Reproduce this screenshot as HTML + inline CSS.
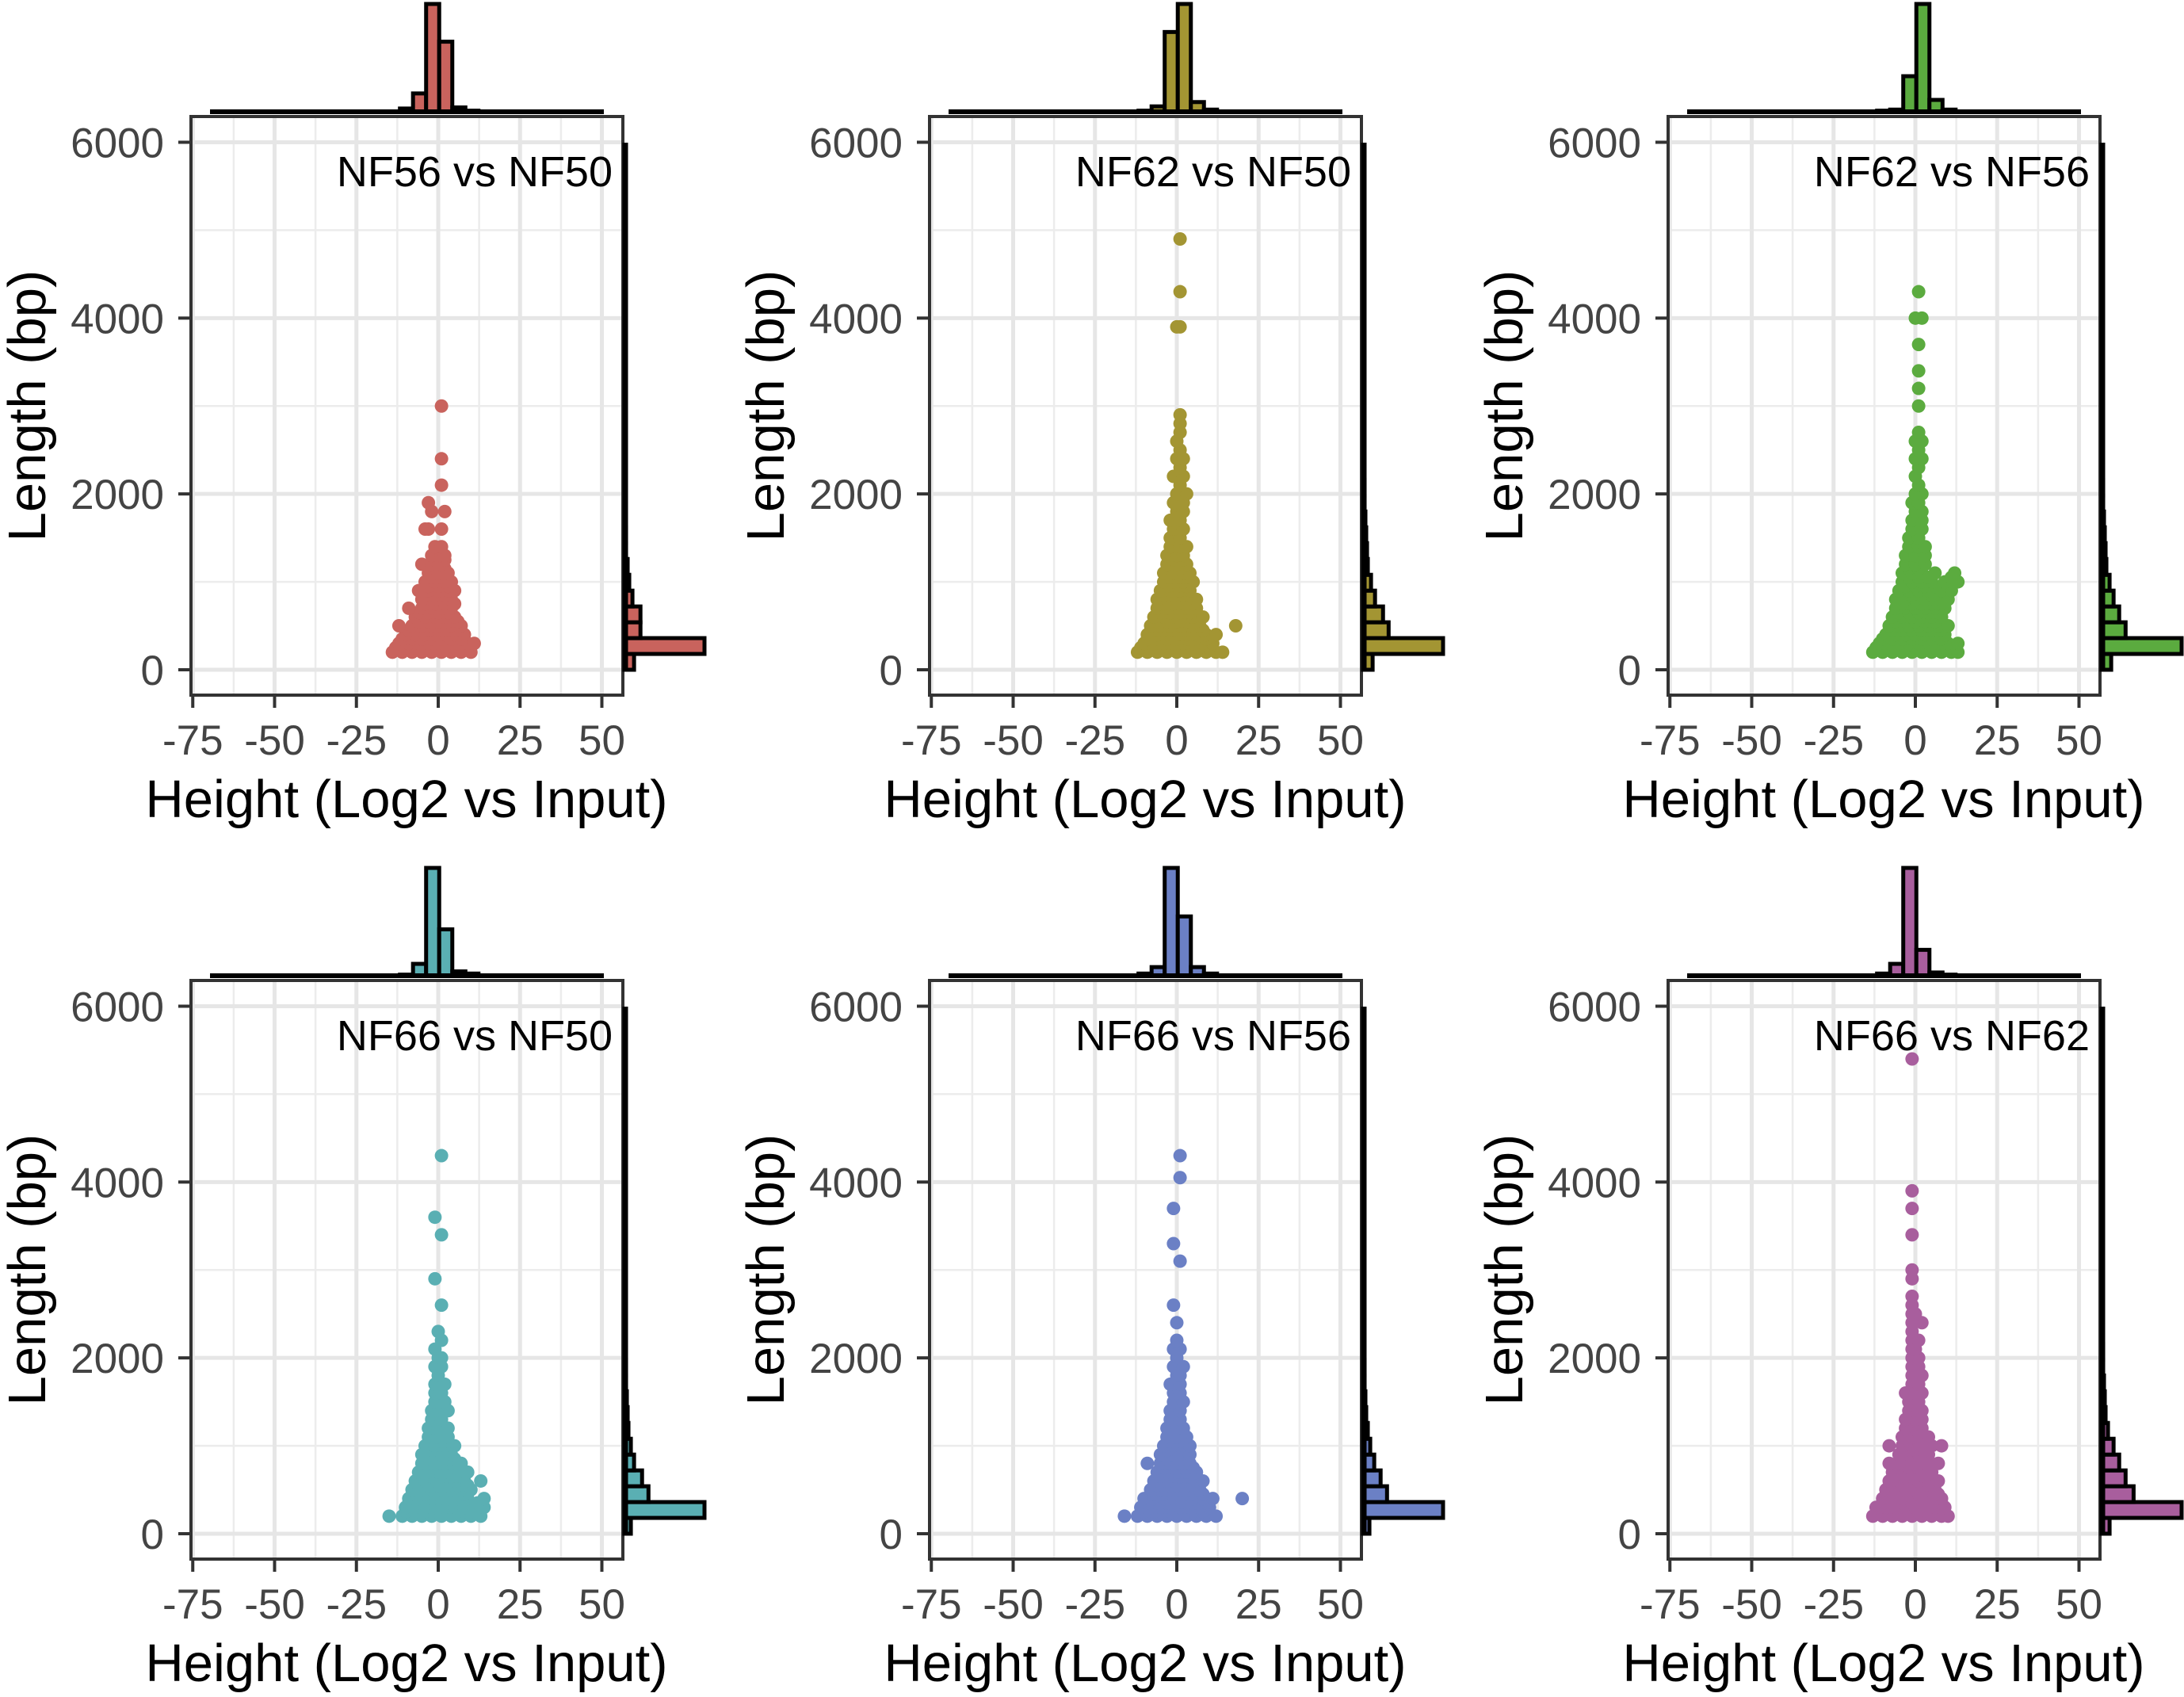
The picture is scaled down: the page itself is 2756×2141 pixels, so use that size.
<!DOCTYPE html>
<html><head><meta charset="utf-8"><style>
html,body{margin:0;padding:0;background:#fff}
svg{display:block}
text{font-family:"Liberation Sans",Arial,sans-serif}
</style></head><body>
<svg id="chart" width="2756" height="2141" viewBox="0 0 2756 2141"></svg>
<script>
const panelTitles = ["NF56 vs NF50","NF62 vs NF50","NF62 vs NF56","NF66 vs NF50","NF66 vs NF56","NF66 vs NF62"];
const panelColors = ["#c9635d","#a39533","#5bab3f","#5aafb3","#6b80c5","#a85e9d"];
const xTicks = [-75,-50,-25,0,25,50];
const xMinor = [-62.5,-37.5,-12.5,12.5,37.5];
const yTicks = [0,2000,4000,6000];
const yMinor = [1000,3000,5000];
const topEdges = [-19.7,-15.7,-11.7,-7.7,-3.7,0.3,4.3,8.3,12.3,16.3,20.3];
const topHist1 = [0,0,0.03,0.17,1.0,0.65,0.04,0.01,0,0];
const topHist2 = [0,0,0.01,0.05,0.74,1.0,0.09,0.02,0,0];
const topHist3 = [0,0,0.01,0.02,0.33,1.0,0.11,0.02,0,0];
const topHist4 = [0,0,0.01,0.11,1.0,0.43,0.04,0.02,0,0];
const topHist5 = [0,0,0.02,0.08,1.0,0.55,0.08,0.02,0,0];
const topHist6 = [0,0,0.02,0.11,1.0,0.24,0.03,0.01,0,0];
const rightEdges = [0,180,360,540,720,900,1080,1260,1440,1620,1800,1980,2160,2340];
const rightHist1 = [0.12,1.0,0.2,0.2,0.1,0.06,0.04,0.02,0.02,0.01,0.01,0,0];
const rightHist2 = [0.12,1.0,0.32,0.25,0.15,0.1,0.06,0.05,0.04,0.03,0.02,0.02,0.01];
const rightHist3 = [0.12,1.0,0.3,0.22,0.15,0.1,0.06,0.05,0.04,0.03,0.02,0.02,0.01];
const rightHist4 = [0.08,1.0,0.3,0.22,0.12,0.08,0.05,0.04,0.03,0.02,0.02,0.01,0.01];
const rightHist5 = [0.08,1.0,0.3,0.22,0.14,0.09,0.06,0.04,0.03,0.02,0.02,0.01,0.01];
const rightHist6 = [0.1,1.0,0.4,0.3,0.22,0.15,0.08,0.05,0.04,0.03,0.02,0.02,0.01];
const points1 = "200:-14 -11 -8 -5 -2 1 4 7 10|250:-13 -10 -7 -4 -1 2 5 8|300:-12 -9 -6 -3 0 3 6 9 11|350:-11 -8 -5 -2 1 4 7|400:-10 -7 -4 -1 2 5 8|450:-9 -6 -3 0 3 6|500:-12 -8 -5 -2 1 4 7|550:-6 -3 0 3 6|600:-7 -4 -1 2 5|650:-6 -3 0 3|700:-9 -5 -2 1 4|750:-4 -1 2 5|800:-5 -2 1 4|850:-4 -1 2|900:-6 -3 0 3 5|950:-3 0 3|1000:-4 -1 2 4|1050:-2 1|1100:-3 0 3|1150:-1 2|1200:-5 -2 1|1250:-1 2|1300:-2 1 2|1400:-1 1|1600:-4 -3 1|1800:-2 2|1900:-3|2100:1|2400:1|3000:1";
const points2 = "200:-12 -9 -6 -3 0 3 6 9 12 14|250:-11 -8 -5 -2 1 4 7 10|300:-10 -7 -4 -1 2 5 8 11|350:-9 -6 -3 0 3 6 9|400:-9 -6 -3 0 3 6 9 12|450:-7 -4 -1 2 5 8|500:-8 -5 -2 1 4 7 18|550:-6 -3 0 3 6|600:-7 -4 -1 2 5 8|650:-5 -2 1 4|700:-6 -3 0 3 6|750:-4 -1 2 5|800:-6 -3 0 3 6|850:-4 -1 2 4|900:-5 -2 1 4|950:-3 0 3|1000:-4 -1 2 5|1050:-2 1 3|1100:-4 -1 2 4|1150:-2 1|1200:-3 0 3|1250:-1 2|1300:-3 0 2|1400:-2 1 3|1500:-2 1|1600:-1 2|1700:-2 1|1800:0 2|1900:-1 2|2000:0 3|2100:1|2200:-1 2|2300:1|2400:0 2|2500:1|2600:0|2700:1|2800:1|2900:1|3900:0 1|4300:1|4900:1";
const points3 = "200:-13 -10 -7 -4 -1 2 5 8 11 13|250:-12 -9 -6 -3 0 3 6 9 12|300:-11 -8 -5 -2 1 4 7 10 13|350:-10 -7 -4 -1 2 5 8|400:-9 -6 -3 0 3 6 9|450:-7 -4 -1 2 5 8|500:-8 -5 -2 1 4 7 10|550:-6 -3 0 3 6|600:-7 -4 -1 2 5 8|650:-5 -2 1 4 7|700:-6 -3 0 3 6 9|750:-4 -1 2 5 8|800:-6 -3 0 3 6 10|850:-4 -1 2 5|900:-5 -2 1 4 8 11|950:-3 0 3 6|1000:-4 -1 2 5 9 13|1050:-2 1 4 11|1100:-4 -1 2 6 12|1150:-2 1|1200:-3 0 3|1300:-3 0 3|1400:-2 1 3|1500:-2 1|1600:-1 2|1700:-1 2|1800:0 2|1900:-1 1|2000:0 2|2100:1|2200:0|2300:1|2400:0 2|2500:1|2600:0 2|2700:1|3000:1|3200:1|3400:1|3700:1|4000:0 2|4300:1";
const points4 = "200:-15 -11 -8 -5 -2 1 4 7 10 13|250:-10 -7 -4 -1 2 5 8 11|300:-10 -7 -4 -1 2 5 8 11 14|350:-9 -6 -3 0 3 6 9 12|400:-9 -6 -3 0 3 6 9 14|450:-7 -4 -1 2 5 8|500:-8 -5 -2 1 4 7 10|550:-6 -3 0 3 6 9|600:-7 -4 -1 2 5 8 13|650:-5 -2 1 4 7|700:-6 -3 0 3 6 9|750:-4 -1 2 5|800:-5 -2 1 4 7|850:-4 -1 2 5|900:-5 -2 1 4|950:-3 0 3|1000:-4 -1 2 5|1050:-2 1 3|1100:-3 0 3|1150:-1 2|1200:-3 0 3|1300:-2 1|1400:-2 1 3|1500:-1 2|1600:-1 1|1700:-1 2|1800:0|1900:-1 1|2000:0 1|2100:-1|2200:1|2300:0|2600:1|2900:-1|3400:1|3600:-1|4300:1";
const points5 = "200:-16 -12 -9 -6 -3 0 3 6 9 12|250:-10 -7 -4 -1 2 5 8|300:-11 -8 -5 -2 1 4 7 10|350:-9 -6 -3 0 3 6 9|400:-10 -7 -4 -1 2 5 8 11 20|450:-7 -4 -1 2 5 8|500:-8 -5 -2 1 4 7|550:-6 -3 0 3 6|600:-7 -4 -1 2 5 8|650:-5 -2 1 4|700:-6 -3 0 3 6|750:-4 -1 2 5|800:-9 -5 -2 1 4|850:-3 0 3|900:-5 -2 1 4|950:-3 0 3|1000:-4 -1 2 4|1050:-2 1|1100:-3 0 3|1150:-1 2|1200:-3 0 2|1300:-2 1|1400:-2 1|1500:-1 2|1600:-1 1|1700:-2 1|1800:0 1|1900:-1 2|2000:0|2100:-1 1|2200:0|2400:0|2600:-1|3100:1|3300:-1|3700:-1|4050:1|4300:1";
const points6 = "200:-13 -10 -7 -4 -1 2 5 8 10|250:-11 -8 -5 -2 1 4 7|300:-12 -9 -6 -3 0 3 6 9|350:-10 -7 -4 -1 2 5 8|400:-10 -7 -4 -1 2 5 8|450:-8 -5 -2 1 4 7|500:-9 -6 -3 0 3 6|550:-7 -4 -1 2 5|600:-8 -5 -2 1 4 7|650:-6 -3 0 3|700:-7 -4 -1 2 5|750:-5 -2 1 4|800:-8 -5 -2 1 4 7|850:-4 -1 2|900:-5 -2 1 4|950:-3 0 3|1000:-8 -4 -1 2 5 8|1050:-2 1|1100:-4 -1 2 4|1150:-2 1|1200:-3 0 2|1250:-1 1|1300:-3 0 2|1350:-1 1|1400:-2 1 2|1500:-2 1|1600:-3 0 2|1700:-1 1|1800:-1 2|1900:-1 1|2000:-1 1|2100:-1 0|2200:-1 1|2300:-1|2400:-1 2|2500:-1 0|2600:-1|2700:-1|2900:-1|3000:-1|3400:-1|3700:-1|3900:-1|5400:-1";

const topHists = [topHist1,topHist2,topHist3,topHist4,topHist5,topHist6];
const rightHists = [rightHist1,rightHist2,rightHist3,rightHist4,rightHist5,rightHist6];
const pointSets = [points1,points2,points3,points4,points5,points6];

const NS = "http://www.w3.org/2000/svg";
const svg = document.getElementById('chart');
function mk(tag, attrs, parent){
  const e = document.createElementNS(NS, tag);
  for (const k in attrs) e.setAttribute(k, attrs[k]);
  parent.appendChild(e); return e;
}
function parsePts(s){
  const out=[];
  s.split('|').forEach(r=>{const [y,xs]=r.split(':');xs.trim().split(/\s+/).forEach(x=>out.push([+x,+y]));});
  return out;
}
for (let p=0;p<6;p++){
  const c=p%3, r=Math.floor(p/3);
  const ox=c*932, oy=r*1090;
  const g = mk('g',{transform:`translate(${ox},${oy})`},svg);
  
  
  const X = u => 553 + u*4.13;
  const Y = v => 845 - v*0.11092;
  const L=241,R=786,T=147,B=877;
  const bg = mk('rect',{x:L,y:T,width:R-L,height:B-T,fill:'#fff'},g);
  
  
  xMinor.forEach(u=>mk('line',{x1:X(u),x2:X(u),y1:T,y2:B,stroke:'#ececec','stroke-width':2.5},g));
  yMinor.forEach(v=>mk('line',{x1:L,x2:R,y1:Y(v),y2:Y(v),stroke:'#ececec','stroke-width':2.5},g));
  xTicks.forEach(u=>mk('line',{x1:X(u),x2:X(u),y1:T,y2:B,stroke:'#e6e6e6','stroke-width':5},g));
  yTicks.forEach(v=>mk('line',{x1:L,x2:R,y1:Y(v),y2:Y(v),stroke:'#e6e6e6','stroke-width':5},g));
  const pts = parsePts(pointSets[p]);
  pts.forEach(([u,v])=>{
    const d = mk('circle',{cx:X(u),cy:Y(v),r:8.5,fill:panelColors[p]},g);
    
    
  });
  const bd = mk('rect',{x:L,y:T,width:R-L,height:B-T,fill:'none',stroke:'#333','stroke-width':4},g);
  
  
  xTicks.forEach(u=>{
    mk('line',{x1:X(u),x2:X(u),y1:B,y2:B+16,stroke:'#333','stroke-width':4},g);
    const t = mk('text',{x:X(u),y:952,'text-anchor':'middle','font-size':53,fill:'#444'},g);
    t.textContent=u;
    
    
  });
  yTicks.forEach(v=>{
    mk('line',{x1:L-16,x2:L,y1:Y(v),y2:Y(v),stroke:'#333','stroke-width':4},g);
    const t = mk('text',{x:207,y:Y(v)+19,'text-anchor':'end','font-size':53,fill:'#444'},g);
    t.textContent=v;
    
    
  });
  const xt = mk('text',{x:513,y:1031,'text-anchor':'middle','font-size':67,fill:'#000'},g);
  xt.textContent='Height (Log2 vs Input)';
  
  
  const yt = mk('text',{x:0,y:0,'text-anchor':'middle','font-size':67,fill:'#000',transform:'translate(57,512) rotate(-90)'},g);
  yt.textContent='Length (bp)';
  
  
  const tt = mk('text',{x:773,y:235,'text-anchor':'end','font-size':54,fill:'#000'},g);
  tt.textContent=panelTitles[p];
  
  
  const th = topHists[p];
  th.forEach((h,i)=>{
    if(h<=0) return;
    const x0=X(topEdges[i]), x1=X(topEdges[i+1]), hh=h*136;
    const b = mk('rect',{x:x0,y:141-hh,width:x1-x0,height:hh,fill:panelColors[p],stroke:'#000','stroke-width':5},g);
    
    
  });
  mk('line',{x1:265,x2:762,y1:141,y2:141,stroke:'#000','stroke-width':6},g);
  const rh = rightHists[p];
  rh.forEach((h,i)=>{
    if(h<=0) return;
    const y0=Y(rightEdges[i+1]), y1=Y(rightEdges[i]), ww=h*101;
    const b = mk('rect',{x:788,y:y0,width:ww,height:y1-y0,fill:panelColors[p],stroke:'#000','stroke-width':5},g);
    
    
  });
  mk('line',{x1:789,x2:789,y1:180,y2:846,stroke:'#000','stroke-width':7},g);
}
</script>
</body></html>
